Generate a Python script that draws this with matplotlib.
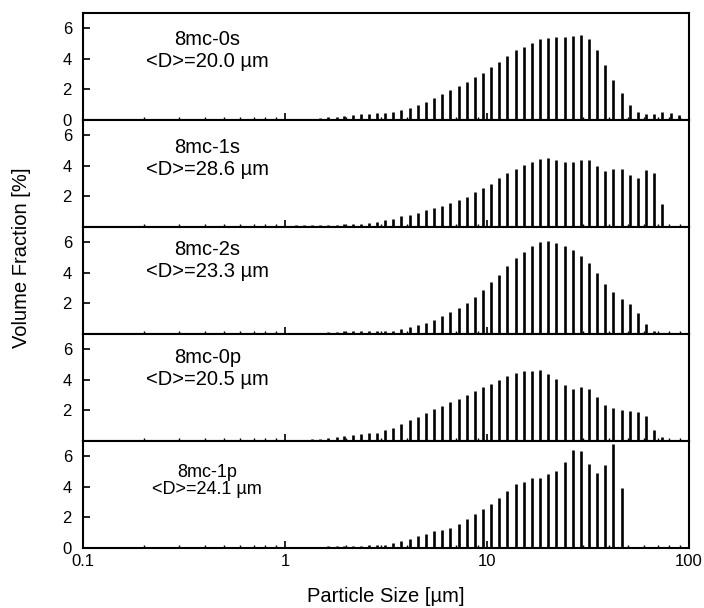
import matplotlib.pyplot as plt
import numpy as np

plt.rcParams['font.family'] = ['Liberation Sans', 'DejaVu Sans']

# Klassenmitten der Partikelgroessenverteilung [um]
sizes = [1.13, 1.24, 1.36, 1.49, 1.64, 1.80, 1.97, 2.16, 2.37, 2.60, 2.86, 3.13,
         3.44, 3.77, 4.14, 4.54, 4.98, 5.47, 6.00, 6.59, 7.23, 7.93, 8.70, 9.55,
         10.48, 11.50, 12.62, 13.85, 15.20, 16.68, 18.31, 20.09, 22.05, 24.20, 26.55, 29.14,
         31.98, 35.09, 38.51, 42.27, 46.38, 50.90, 55.86, 61.30, 67.28, 73.83, 81.02, 88.92]

# Volumenanteile [%] je Probe
frac_0s = [0, 0, 0.05, 0.1, 0.18, 0.22, 0.28, 0.32, 0.36, 0.42, 0.45,
           0.45, 0.5, 0.67, 0.8, 1.0, 1.2, 1.45, 1.67, 1.93, 2.2, 2.5, 2.8, 3.1, 3.5, 3.8,
           4.2, 4.55, 4.8, 5.05, 5.27, 5.38, 5.44, 5.44, 5.5, 5.55, 5.33, 4.6, 3.6, 2.6,
           1.78, 1.0, 0.55, 0.38, 0.4, 0.5, 0.45, 0.33]
frac_1s = [0.1, 0.12, 0.12, 0.13, 0.15, 0.15, 0.17, 0.18, 0.2, 0.25, 0.32,
           0.47, 0.54, 0.69, 0.8, 0.9, 1.12, 1.23, 1.38, 1.55, 1.76, 1.98, 2.26, 2.56, 2.84, 3.2,
           3.53, 3.8, 4.06, 4.24, 4.45, 4.5, 4.39, 4.28, 4.28, 4.41, 4.39, 3.96, 3.66, 3.8,
           3.8, 3.38, 3.2, 3.7, 3.53, 1.5, 0, 0]
frac_2s = [0, 0.05, 0.07, 0.09, 0.1, 0.13, 0.17, 0.17, 0.17, 0.18, 0.2,
           0.22, 0.22, 0.32, 0.47, 0.58, 0.75, 0.9, 1.18, 1.44, 1.72, 2.04, 2.43, 2.9, 3.4, 3.87,
           4.45, 4.95, 5.38, 5.75, 6.05, 6.08, 5.95, 5.78, 5.5, 5.12, 4.67, 3.98, 3.29, 2.73,
           2.32, 1.94, 1.4, 0.65, 0.2, 0, 0, 0]
frac_0p = [0, 0.05, 0.1, 0.15, 0.2, 0.25, 0.35, 0.4, 0.45, 0.5, 0.55,
           0.72, 0.85, 1.09, 1.37, 1.59, 1.85, 2.09, 2.28, 2.57, 2.78, 3.0, 3.26, 3.54, 3.72, 4.02,
           4.26, 4.46, 4.57, 4.6, 4.65, 4.41, 4.04, 3.65, 3.43, 3.54, 3.43, 2.89, 2.35, 2.17,
           2.02, 1.96, 1.91, 1.63, 0.72, 0.25, 0, 0]
frac_1p = [0, 0, 0.05, 0.08, 0.1, 0.12, 0.13, 0.14, 0.15, 0.17, 0.2,
           0.22, 0.33, 0.43, 0.59, 0.76, 0.91, 1.09, 1.15, 1.3, 1.57, 1.91, 2.24, 2.54, 2.87, 3.26,
           3.74, 4.17, 4.35, 4.57, 4.61, 4.83, 5.04, 5.65, 6.41, 6.35, 5.5, 4.89, 5.43, 6.8,
           3.91, 0, 0, 0, 0, 0, 0, 0]

samples = ['8mc-0s', '8mc-1s', '8mc-2s', '8mc-0p', '8mc-1p']
mean_d = [20.0, 28.6, 23.3, 20.5, 24.1]
fractions = [frac_0s, frac_1s, frac_2s, frac_0p, frac_1p]

# Textpositionen (Achsenbruchteile) und Schriftgroessen der Beschriftungen
label_y = [0.65, 0.64, 0.69, 0.68, 0.625]
label_fs = [14.5, 14.5, 14.5, 14.5, 13]
label_ls = [1.25, 1.15, 1.2, 1.2, 1.05]

fig = plt.figure(figsize=(7.04, 6.08), dpi=100)
left, width = 83 / 704, 606 / 704
top, bottom = 1 - 13 / 608, 1 - 548 / 608
h = (top - bottom) / 5

for i, (name, d, frac) in enumerate(zip(samples, mean_d, fractions)):
    ax = fig.add_axes([left, top - (i + 1) * h, width, h])
    ax.vlines(sizes, 0, frac, colors='black', linewidth=1.9, capstyle='butt')
    ax.set_xscale('log')
    ax.set_xlim(0.1, 100)
    ax.set_ylim(0, 7)
    ax.set_yticks([0, 2, 4, 6])
    if i in (0, 4):
        ax.set_yticklabels(['0', '2', '4', '6'])
    else:
        ax.set_yticklabels(['', '2', '4', '6'])
    ax.tick_params(axis='both', which='major', direction='in', length=5, width=1.2,
                   top=False, right=False)
    ax.tick_params(axis='x', which='minor', direction='in', length=2.5, width=1.0, top=False)
    ax.tick_params(axis='y', labelsize=12, pad=8)
    ax.tick_params(axis='x', labelsize=12, pad=4)
    for sp in ax.spines.values():
        sp.set_linewidth(1.5)
    if i < 4:
        ax.tick_params(axis='x', which='both', labelbottom=False)
    else:
        ax.set_xticks([0.1, 1, 10, 100])
        ax.set_xticklabels(['0.1', '1', '10', '100'])
    ax.text(0.205, label_y[i], f'{name}\n<D>={d:.1f} µm', transform=ax.transAxes,
            ha='center', va='center', fontsize=label_fs[i], linespacing=label_ls[i])

fig.text(22 / 704, 1 - 258 / 608, 'Volume Fraction [%]', rotation=90,
         ha='center', va='center', fontsize=14.5)
fig.text(left + width / 2, 1 - 597 / 608, 'Particle Size [µm]',
         ha='center', va='center', fontsize=14.5)

plt.savefig('out.png', dpi=100)
